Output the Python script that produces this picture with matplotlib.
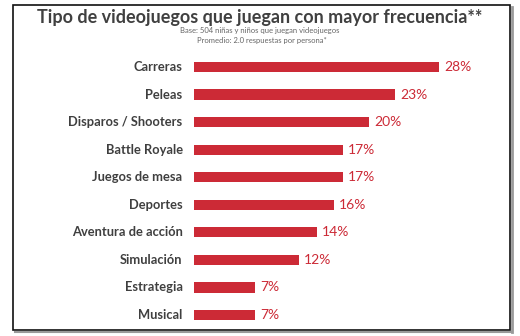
import matplotlib.pyplot as plt
from matplotlib.lines import Line2D
from matplotlib.patches import Rectangle

categorias = ['Carreras', 'Peleas', 'Disparos / Shooters', 'Battle Royale',
              'Juegos de mesa', 'Deportes', 'Aventura de acción', 'Simulación',
              'Estrategia', 'Musical']
porcentajes = [28, 23, 20, 17, 17, 16, 14, 12, 7, 7]

titulo = 'Tipo de videojuegos que juegan con mayor frecuencia**'
nota_base = 'Base: 504 niñas y niños que juegan videojuegos'
nota_promedio = 'Promedio: 2.0 respuestas por persona*'

rojo = '#cc2a36'
gris = '#3f3f3f'
plt.rcParams['font.family'] = ['Lato', 'DejaVu Sans']

W, H = 520, 336
fig = plt.figure(figsize=(W / 100, H / 100), dpi=100)

def fx(px):
    return px / W

def fy(py):
    return 1 - py / H

# sombra gris a la derecha y abajo, luego el marco negro
fig.lines.append(Line2D([fx(511.5), fx(511.5)], [fy(7), fy(332)],
                        transform=fig.transFigure, color='#9a9a9a', lw=2.0))
fig.lines.append(Line2D([fx(15), fx(512)], [fy(331.5), fy(331.5)],
                        transform=fig.transFigure, color='#9a9a9a', lw=1.5))
fig.patches.append(Rectangle((fx(12.5), fy(330)), fx(497.5), 325 / H,
                             transform=fig.transFigure, fill=False,
                             edgecolor='#111111', linewidth=1.2))

ax = fig.add_axes([fx(194), 0.0214, fx(262.5), 0.8203])
y = range(len(categorias))
ax.barh(y, porcentajes, height=0.37, color=rojo)
ax.set_xlim(0, 30)
ax.set_ylim(len(categorias) - 0.5, -0.5)

for i, (cat, v) in enumerate(zip(categorias, porcentajes)):
    ax.text(-1.3, i, cat, ha='right', va='center', fontsize=9.3,
            fontweight='bold', color=gris)
    ax.text(v + 0.6, i, f'{v}%', ha='left', va='center', fontsize=10,
            color=rojo)

ax.axis('off')

fig.text(fx(260), fy(17), titulo, ha='center', va='center',
         fontsize=13, fontweight='bold', color='#404040')
fig.text(fx(260), fy(31), nota_base, ha='center', va='center',
         fontsize=5.5, color='#666666')
fig.text(fx(262), fy(40.5), nota_promedio, ha='center', va='center',
         fontsize=5.5, color='#666666')

fig.savefig('out.png', dpi=100)
